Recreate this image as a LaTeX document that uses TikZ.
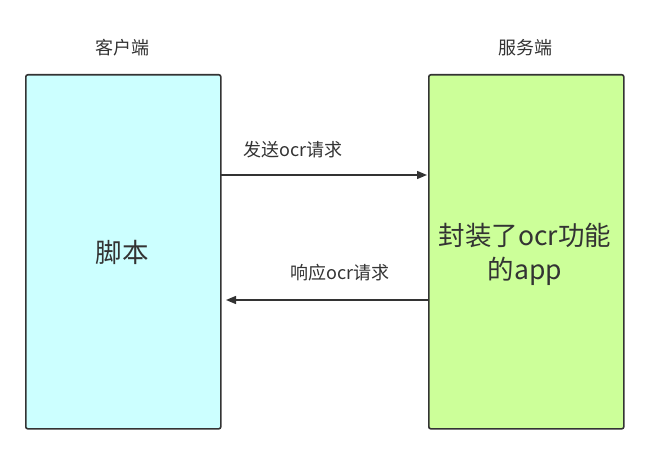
\documentclass[tikz,border=0pt]{standalone}
\usepackage{fontspec}
\setmainfont{Noto Sans CJK SC}
\usetikzlibrary{arrows.meta}
\definecolor{lb}{HTML}{CCFFFF}
\definecolor{gb}{HTML}{CCFF99}
\definecolor{ln}{HTML}{333333}
\begin{document}
\begin{tikzpicture}[x=1pt,y=-1pt,
  box/.style={draw=ln,line width=1.6pt,rounded corners=2pt},
  lab/.style={text=ln,font=\fontsize{18}{22}\selectfont},
  big/.style={text=ln,font=\fontsize{26.5}{34}\selectfont,align=center},
  arr/.style={draw=ln,line width=1.4pt,-{Triangle[length=10pt,width=8pt]}}]
\useasboundingbox (0,0) rectangle (648,454);
\node[box,fill=lb,minimum width=195pt,minimum height=354pt,anchor=north west] (c) at (25,74) {};
\node[box,fill=gb,minimum width=195pt,minimum height=354pt,anchor=north west] (s) at (428,74) {};
\node[lab] (ct) at (122,48) {客户端};
\node[lab] (st) at (525,48) {服务端};
\node[big] (ctxt) at (122,252) {脚本};
\node[big] (stxt) at (525,254) {封装了ocr功能\\的app};
\coordinate (a1s) at (220,175); \coordinate (a1e) at (427,175);
\coordinate (a2s) at (428,300); \coordinate (a2e) at (226,300);
\draw[arr] (a1s) -- (a1e);
\draw[arr] (a2s) -- (a2e);
\node[lab] (l1) at (293,150) {发送ocr请求};
\node[lab] (l2) at (340,273) {响应ocr请求};
\end{tikzpicture}
\end{document}
